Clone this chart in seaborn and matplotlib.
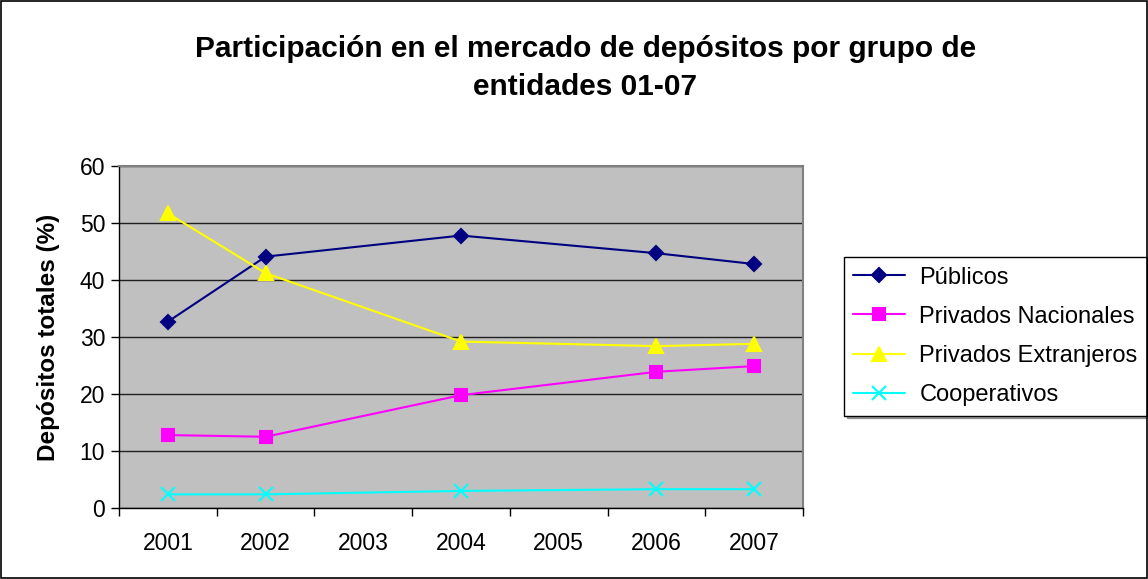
import seaborn as sns
import matplotlib.pyplot as plt
import pandas as pd
from matplotlib.patches import Rectangle

years = [2001, 2002, 2004, 2006, 2007]
publicos = [32.7, 44.1, 47.8, 44.7, 42.8]
nacionales = [12.8, 12.5, 19.8, 23.9, 24.9]
extranjeros = [51.7, 41.2, 29.2, 28.4, 28.8]
cooperativos = [2.4, 2.4, 3.0, 3.3, 3.3]
series_names = ['Públicos', 'Privados Nacionales', 'Privados Extranjeros', 'Cooperativos']
year_labels = ['2001', '2002', '2003', '2004', '2005', '2006', '2007']

df = pd.DataFrame({'anio': years, series_names[0]: publicos, series_names[1]: nacionales,
                   series_names[2]: extranjeros, series_names[3]: cooperativos})

sns.set_theme(style='white')
plt.rcParams['font.family'] = ['Liberation Sans', 'DejaVu Sans']
plt.rcParams['text.color'] = 'black'
plt.rcParams['axes.labelcolor'] = 'black'
plt.rcParams['xtick.color'] = 'black'
plt.rcParams['ytick.color'] = 'black'

fig = plt.figure(figsize=(11.48, 5.79), dpi=100)
ax = fig.add_axes([0.1037, 0.1226, 0.5958, 0.5907])
ax.set_facecolor('#C0C0C0')

colors = ['#000080', '#FF00FF', '#FFFF00', '#00FFFF']
marks = ['D', 's', '^', 'x']
msizes = [7.5, 8.5, 10, 10]

# excel style: one line per group, markers same colour as line
for name, c, m, ms in zip(series_names, colors, marks, msizes):
    sns.lineplot(data=df, x='anio', y=name, color=c, marker=m, markersize=ms,
                 markeredgecolor=c, markeredgewidth=1.5, linewidth=1.5, label=name, ax=ax)

ax.set_xlim(2000.5, 2007.5)
ax.set_ylim(0, 60)
ax.set_yticks(range(0, 61, 10))
ax.set_xticks(range(2001, 2008))
ax.set_xticklabels(year_labels)
ax.set_xticks([2000.5 + i for i in range(8)], minor=True)
ax.tick_params(axis='x', which='major', length=0, labelsize=16.5, pad=17)
ax.tick_params(axis='x', which='minor', length=6, width=1, direction='out', color='black', bottom=True)
ax.tick_params(axis='y', length=6, width=1, direction='out', color='black', left=True, labelsize=16.5, pad=4)
ax.yaxis.grid(True, color='#202020', linewidth=1)
ax.set_axisbelow(True)
for s in ['top', 'right']:
    ax.spines[s].set_color('#808080')
    ax.spines[s].set_linewidth(1.5)
for s in ['left', 'bottom']:
    ax.spines[s].set_color('black')
    ax.spines[s].set_linewidth(1)

ax.set_xlabel('')
ax.set_ylabel('Depósitos totales (%)', fontsize=17.5, fontweight='bold', labelpad=14)

fig.text(0.51, 0.883, 'Participación en el mercado de depósitos por grupo de\nentidades 01-07',
         ha='center', va='center', fontsize=21.5, fontweight='bold', linespacing=1.45)

leg = ax.legend(loc='upper left', bbox_to_anchor=(0.735, 0.556), bbox_transform=fig.transFigure,
                fontsize=17, frameon=True, fancybox=False, shadow=True, edgecolor='black',
                handlelength=2.2, handletextpad=0.6, borderpad=0.4, labelspacing=0.73,
                borderaxespad=0)
leg.get_frame().set_linewidth(1)

fig.patches.append(Rectangle((0.0005, 0.001), 0.999, 0.998, transform=fig.transFigure,
                             fill=False, edgecolor='black', linewidth=1.2))

fig.savefig('out.png', dpi=100)
